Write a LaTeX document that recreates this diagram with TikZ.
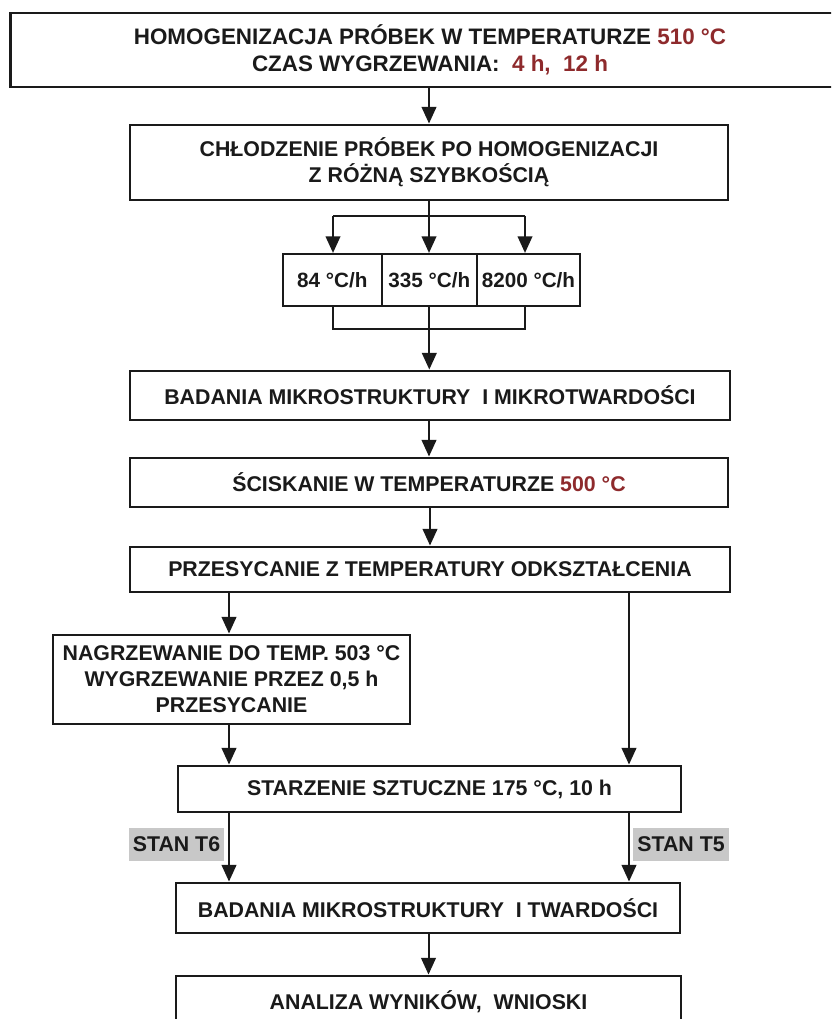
\documentclass[tikz,border=0pt]{standalone}
\usepackage{fontspec}
\setmainfont{Liberation Sans}
\usetikzlibrary{arrows.meta}
\definecolor{darkred}{HTML}{8E2A2C}
\definecolor{labelgray}{HTML}{C8C8C8}
\definecolor{ink}{HTML}{1A1A1A}
\tikzset{
  x=0.75pt, y=-0.75pt,
  box/.style={draw=ink, line width=2.2pt, fill=white, align=center, inner sep=0pt,
    font=\fontsize{16}{19.5}\selectfont\bfseries, text=ink},
  cell/.style={box, line width=1.6pt},
  lbl/.style={fill=labelgray, inner sep=0pt, font=\fontsize{16}{19}\selectfont\bfseries, text=ink},
  conn/.style={draw=ink, line width=1.5pt},
  arr/.style={conn, -{Triangle[length=12.5pt, width=11pt]}},
}
\newcommand{\hot}[1]{\textcolor{darkred}{#1}}
\begin{document}
\begin{tikzpicture}
\clip (0,0) rectangle (831,1019);
\fill[white] (0,0) rectangle (831,1019);

% boxes
\node[box, font=\fontsize{16.8}{20.5}\selectfont\bfseries, minimum width=838.8*0.75pt, minimum height=74*0.75pt] (b1) at (430,50)
  {HOMOGENIZACJA PRÓBEK W TEMPERATURZE \hot{510 °C}\\CZAS WYGRZEWANIA:\ \ \hot{4 h,\ \ 12 h}};
\node[box, minimum width=598*0.75pt, minimum height=75*0.75pt] (b2) at (429,162.5)
  {CHŁODZENIE PRÓBEK PO HOMOGENIZACJI\\Z RÓŻNĄ SZYBKOŚCIĄ};

\node[cell, font=\fontsize{15.5}{19}\selectfont\bfseries, minimum width=98.7*0.75pt, minimum height=52*0.75pt] (r1) at (332.3,280) {84 °C/h};
\node[cell, font=\fontsize{15.5}{19}\selectfont\bfseries, minimum width=95.3*0.75pt, minimum height=52*0.75pt] (r2) at (429.3,280) {335 °C/h};
\node[cell, font=\fontsize{15.5}{19}\selectfont\bfseries, minimum width=103*0.75pt, minimum height=52*0.75pt] (r3) at (528.5,280) {8200 °C/h};

\node[box, minimum width=600*0.75pt, minimum height=49*0.75pt] (b3) at (430,395.5)
  {BADANIA MIKROSTRUKTURY\ \ I MIKROTWARDOŚCI};
\node[box, minimum width=598*0.75pt, minimum height=49*0.75pt] (b4) at (429,482.5)
  {ŚCISKANIE W TEMPERATURZE \hot{500 °C}};
\node[box, minimum width=600*0.75pt, minimum height=45*0.75pt] (b5) at (430,569.5)
  {PRZESYCANIE Z TEMPERATURY ODKSZTAŁCENIA};
\node[box, minimum width=357*0.75pt, minimum height=89*0.75pt] (b6) at (231.5,679.5)
  {NAGRZEWANIE DO TEMP. 503 °C\\WYGRZEWANIE PRZEZ 0,5 h\\PRZESYCANIE};
\node[box, minimum width=503*0.75pt, minimum height=46*0.75pt] (b7) at (429.5,789)
  {STARZENIE SZTUCZNE 175 °C, 10 h};
\node[box, minimum width=504*0.75pt, minimum height=50*0.75pt] (b8) at (428,908)
  {BADANIA MIKROSTRUKTURY\ \ I TWARDOŚCI};
\node[box, minimum width=505*0.75pt, minimum height=52*0.75pt] (b9) at (428.5,1002)
  {ANALIZA WYNIKÓW,\ \ WNIOSKI};

% labels
\node[lbl, minimum width=95*0.75pt, minimum height=33*0.75pt] (t6) at (176.5,844.5) {STAN T6};
\node[lbl, minimum width=96*0.75pt, minimum height=33*0.75pt] (t5) at (681,844.5) {STAN T5};

% connector coordinates
\coordinate (sTop) at (429,216);
\coordinate (sL) at (333,216);
\coordinate (sR) at (525,216);
\coordinate (jL) at (333,329);
\coordinate (jM) at (429.3,329);
\coordinate (jR) at (525,329);
\coordinate (pL) at (229,592);
\coordinate (pR) at (629,592);

% connectors
\draw[arr] (b1.south -| b2.north) -- (b2.north);
\draw[conn] (b2.south) -- (sTop);
\draw[conn] (sL) -- (sR);
\draw[arr] (sL) -- (sL |- r1.north);
\draw[arr] (sTop) -- (sTop |- r2.north);
\draw[arr] (sR) -- (sR |- r3.north);

\draw[conn] (r1.south -| jL) -- (jL) -- (jR) -- (r3.south -| jR);
\draw[arr] (r2.south) -- (jM) -- (jM |- b3.north);

\draw[arr] (b3.south -| b4.north) -- (b4.north);
\draw[arr] (b4.south -| b5.north) -- (b5.north);

\draw[arr] (pL) -- (pL |- b6.north);
\draw[arr] (pR) -- (pR |- b7.north);
\draw[arr] (pL |- b6.south) -- (pL |- b7.north);
\draw[arr] (pL |- b7.south) -- (pL |- b8.north);
\draw[arr] (pR |- b7.south) -- (pR |- b8.north);
\draw[arr] (b8.south -| b9.north) -- (b9.north);
\end{tikzpicture}
\end{document}
